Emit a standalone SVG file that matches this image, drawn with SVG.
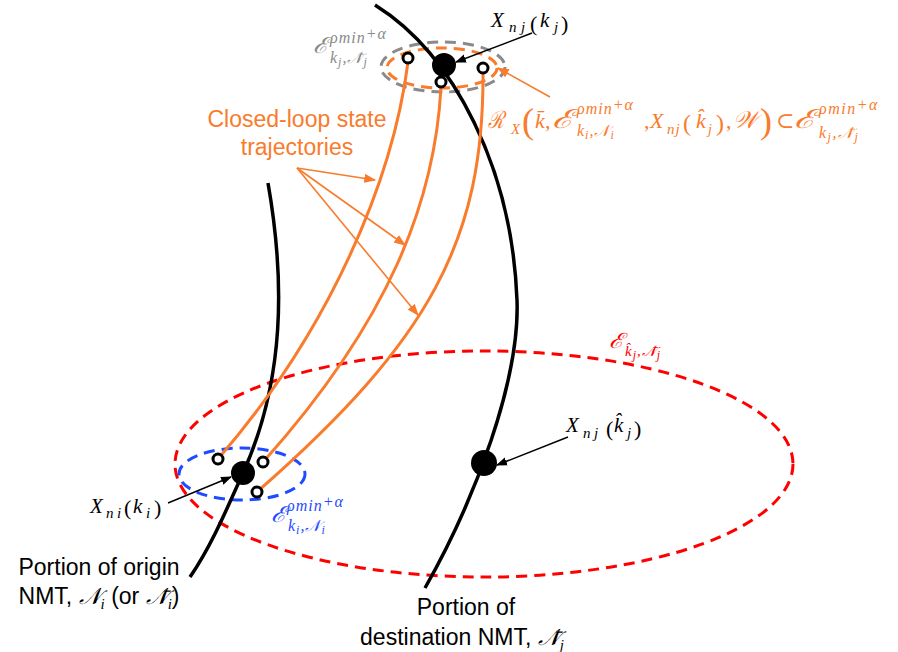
<svg xmlns="http://www.w3.org/2000/svg" width="898" height="652" viewBox="0 0 898 652">
<style>
.nmt{fill:none;stroke:#000;stroke-width:3.5}
.traj{fill:none;stroke:#F97B2C;stroke-width:3}
.pt{fill:#fff;stroke:#000;stroke-width:3}
.dot{fill:#000}
.set{fill:none;stroke-width:3;stroke-dasharray:11 7}
.ann{fill:none;stroke:#F97B2C;stroke-width:1.6}
.blk{fill:none;stroke:#000;stroke-width:1.4}
.lbl{font-family:"Liberation Sans",Arial,sans-serif;font-size:23px}
.m{font-family:"Liberation Serif","DejaVu Serif",serif;font-style:italic}
.up{font-style:normal}
.or{fill:#F97B2C}
</style>
<defs>
<marker id="ahb" viewBox="0 0 10 10" refX="9" refY="5" markerWidth="11" markerHeight="11" markerUnits="userSpaceOnUse" orient="auto"><path d="M0,1.2 L10,5 L0,8.8 z" fill="#000"/></marker>
<marker id="aho" viewBox="0 0 10 10" refX="9" refY="5" markerWidth="12" markerHeight="12" markerUnits="userSpaceOnUse" orient="auto"><path d="M0,1.2 L10,5 L0,8.8 z" fill="#F97B2C"/></marker>
</defs>

<g id="set-destination-large">
<ellipse class="set" cx="484" cy="464" rx="309" ry="113" stroke="#FF0000"/>
</g>
<g id="set-origin">
<ellipse class="set" cx="242" cy="474" rx="63" ry="26" stroke="#1F4BFF"/>
</g>
<g id="set-destination-small">
<ellipse class="set" cx="443" cy="67" rx="62" ry="25" stroke="#8A8A8A"/>
<ellipse class="set" cx="442" cy="68" rx="55" ry="20" stroke="#F97B2C"/>
</g>

<g id="nmt-origin">
<path class="nmt" d="M268,183 C285,280 285,380 243,473 C228,506 212,545 190,577"/>
</g>
<g id="nmt-destination">
<path class="nmt" d="M375,5 C455,55 512,170 517,300 C520,380 475,500 425,588"/>
</g>

<g id="trajectories">
<path class="traj" d="M408,62 C393,180 330,330 218,459"/>
<path class="traj" d="M441,87 C435,200 390,320 264,461"/>
<path class="traj" d="M483,72 C484,240 430,340 258,491"/>
</g>

<g id="states">
<circle class="dot" cx="444" cy="65" r="12"/>
<circle class="dot" cx="243" cy="473" r="12"/>
<circle class="dot" cx="484" cy="463" r="13"/>
<circle class="pt" cx="408" cy="58" r="5"/>
<circle class="pt" cx="483" cy="68" r="5"/>
<circle class="pt" cx="441" cy="82" r="5"/>
<circle class="pt" cx="218" cy="459" r="5"/>
<circle class="pt" cx="263" cy="462" r="5"/>
<circle class="pt" cx="257" cy="492" r="5"/>
</g>

<g id="connectors">
<line class="ann" x1="297" y1="168" x2="375" y2="180" marker-end="url(#aho)"/>
<line class="ann" x1="297" y1="168" x2="405" y2="245" marker-end="url(#aho)"/>
<line class="ann" x1="297" y1="168" x2="418" y2="315" marker-end="url(#aho)"/>
<line class="ann" x1="550" y1="97" x2="498" y2="68" marker-end="url(#aho)"/>
<line class="blk" x1="532" y1="33" x2="456" y2="62" marker-end="url(#ahb)"/>
<line class="blk" x1="568" y1="437" x2="497" y2="465" marker-end="url(#ahb)"/>
<line class="blk" x1="168" y1="503" x2="231" y2="477" marker-end="url(#ahb)"/>
</g>

<g id="label-trajectories" class="lbl or" text-anchor="middle">
<text x="297" y="127">Closed-loop state</text>
<text x="297" y="155">trajectories</text>
</g>

<g id="label-origin" class="lbl" text-anchor="middle">
<text x="99" y="575">Portion of origin</text>
<text x="99" y="604">NMT, <tspan class="m">𝒩</tspan><tspan class="m" font-size="15" dy="5">i</tspan><tspan dy="-5"> (or </tspan><tspan class="m">𝒩̄</tspan><tspan class="m" font-size="15" dy="5">i</tspan><tspan dy="-5">)</tspan></text>
</g>

<g id="label-destination" class="lbl" text-anchor="middle">
<text x="466" y="615">Portion of</text>
<text x="462" y="645">destination NMT, <tspan class="m">𝒩̄</tspan><tspan class="m" font-size="15" dy="5">j</tspan></text>
</g>

<g id="label-xnj-kj" class="m" font-size="21">
<text x="491" y="27">X</text><text x="509" y="32" font-size="15">n</text><text x="521" y="32" font-size="15">j</text><text class="up" x="530" y="31" font-size="22">(</text><text x="540" y="27">k</text><text x="554" y="32" font-size="15">j</text><text class="up" x="561" y="31" font-size="22">)</text>
</g>

<g id="label-xnj-khat" class="m" font-size="21">
<text x="566" y="432">X</text><text x="583" y="438" font-size="15">n</text><text x="594" y="438" font-size="15">j</text><text class="up" x="606" y="436" font-size="22">(</text><text x="614" y="432">k̂</text><text x="627" y="438" font-size="15">j</text><text class="up" x="634" y="436" font-size="22">)</text>
</g>

<g id="label-xni-ki" class="m" font-size="21">
<text x="90" y="513">X</text><text x="106" y="518" font-size="15">n</text><text x="117" y="518" font-size="15">i</text><text class="up" x="124" y="515" font-size="22">(</text><text x="133" y="513">k</text><text x="146" y="518" font-size="15">i</text><text class="up" x="154" y="515" font-size="22">)</text>
</g>

<g id="label-set-gray" class="m" fill="#8A8A8A">
<text x="313" y="53" font-size="22" textLength="15" lengthAdjust="spacingAndGlyphs">ℰ</text>
<text x="330" y="43" font-size="16" letter-spacing="1">ρmin<tspan dy="-4">+α</tspan></text>
<text x="330" y="63" font-size="16" letter-spacing="1">k<tspan font-size="12" dy="3">j</tspan><tspan dy="-3">,𝒩̄</tspan><tspan font-size="12" dy="3">j</tspan></text>
</g>

<g id="label-set-blue" class="m" fill="#1F4BFF">
<text x="271" y="522" font-size="22" textLength="15" lengthAdjust="spacingAndGlyphs">ℰ</text>
<text x="287" y="511" font-size="16" letter-spacing="1">ρmin<tspan dy="-4">+α</tspan></text>
<text x="288" y="531" font-size="16" letter-spacing="1">k<tspan font-size="12" dy="3">i</tspan><tspan dy="-3">,𝒩</tspan><tspan font-size="12" dy="3">i</tspan></text>
</g>

<g id="label-set-red" class="m" fill="#FF0000">
<text x="609" y="348" font-size="21" textLength="15" lengthAdjust="spacingAndGlyphs">ℰ</text>
<text x="625" y="356" font-size="15" letter-spacing="1">k̂<tspan font-size="12" dy="3">j</tspan><tspan dy="-3">,𝒩̄</tspan><tspan font-size="12" dy="3">j</tspan></text>
</g>

<g id="label-reach" class="m or">
<text x="488" y="128" font-size="24" textLength="16" lengthAdjust="spacingAndGlyphs">ℛ</text>
<text x="511" y="134" font-size="15">X</text>
<text class="up" x="522" y="133" font-size="36">(</text>
<text x="535" y="128" font-size="22">k̄</text>
<text class="up" x="545" y="128" font-size="22">,</text>
<text x="552" y="128" font-size="26" textLength="22" lengthAdjust="spacingAndGlyphs">ℰ</text>
<text x="577" y="114" font-size="16" letter-spacing="1">ρmin<tspan dy="-4">+α</tspan></text>
<text x="577" y="136" font-size="16" letter-spacing="1">k<tspan font-size="12" dy="3">i</tspan><tspan dy="-3">,𝒩</tspan><tspan font-size="12" dy="3">i</tspan></text>
<text class="up" x="644" y="128" font-size="22">,</text>
<text x="650" y="128" font-size="22">X</text>
<text x="667" y="134" font-size="15" letter-spacing="1">nj</text>
<text class="up" x="683" y="131" font-size="24">(</text>
<text x="696" y="128" font-size="22">k̂</text>
<text x="708" y="134" font-size="14">j</text>
<text class="up" x="716" y="131" font-size="24">)</text>
<text class="up" x="726" y="128" font-size="22">,</text>
<text x="733" y="128" font-size="24" textLength="24" lengthAdjust="spacingAndGlyphs">𝒲</text>
<text class="up" x="760" y="133" font-size="36">)</text>
<text class="up" x="776" y="128" font-size="22">⊂</text>
<text x="794" y="128" font-size="26" textLength="22" lengthAdjust="spacingAndGlyphs">ℰ</text>
<text x="819" y="114" font-size="16" letter-spacing="1.5">ρmin<tspan dy="-4">+α</tspan></text>
<text x="819" y="138" font-size="16" letter-spacing="1.5">k<tspan font-size="12" dy="3">j</tspan><tspan dy="-3">,𝒩̄</tspan><tspan font-size="12" dy="3">j</tspan></text>
</g>
</svg>
